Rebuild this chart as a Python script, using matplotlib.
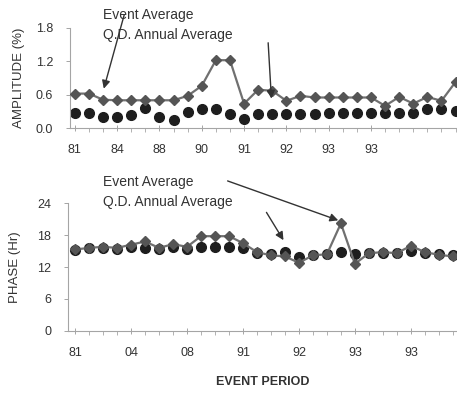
import numpy as np
import matplotlib
matplotlib.use('Agg')
import matplotlib.pyplot as plt

plt.rcParams['font.family'] = ['Liberation Sans Narrow', 'Liberation Sans', 'DejaVu Sans']

# event index (28 events)
n_events = 28

# Amplitude (%)
amp_event = [0.62, 0.62, 0.51, 0.50, 0.50, 0.50, 0.50, 0.50, 0.58, 0.76,
             1.22, 1.22, 0.44, 0.69, 0.67, 0.49, 0.58, 0.55, 0.55, 0.55,
             0.55, 0.55, 0.40, 0.56, 0.44, 0.56, 0.49, 0.83]
amp_qd = [0.28, 0.28, 0.20, 0.20, 0.23, 0.36, 0.20, 0.15, 0.29, 0.35,
          0.35, 0.26, 0.17, 0.26, 0.26, 0.26, 0.26, 0.26, 0.27, 0.27,
          0.27, 0.27, 0.27, 0.27, 0.27, 0.34, 0.34, 0.30]

# Phase (Hr)
ph_event = [15.3, 15.6, 15.8, 15.6, 16.2, 16.8, 15.6, 16.3, 15.8, 17.8,
            17.8, 17.8, 16.5, 14.8, 14.2, 14.0, 12.8, 14.2, 14.4, 20.2,
            12.6, 14.6, 14.8, 14.6, 16.0, 14.8, 14.3, 14.0]
ph_qd = [15.2, 15.5, 15.5, 15.3, 15.8, 15.6, 15.4, 15.8, 15.4, 15.8,
         15.8, 15.8, 15.5, 14.6, 14.4, 14.8, 13.8, 14.2, 14.4, 14.8,
         14.4, 14.6, 14.6, 14.6, 15.0, 14.6, 14.4, 14.3]

top_ticklabels = ['81', '84', '88', '90', '91', '92', '93', '93']
bot_ticklabels = ['81', '04', '08', '91', '92', '93', '93']

x = np.arange(n_events)

fig = plt.figure(figsize=(4.57, 3.93), dpi=100)
ax1 = fig.add_axes([0.153, 0.674, 0.847, 0.255])
ax2 = fig.add_axes([0.149, 0.158, 0.851, 0.325])

gray = '#707070'
dark = '#1e1e1e'


def style(ax):
    for s in ['top', 'right']:
        ax.spines[s].set_visible(False)
    for s in ['left', 'bottom']:
        ax.spines[s].set_color('#a5a5a5')
        ax.spines[s].set_linewidth(0.8)
    ax.tick_params(colors='#a5a5a5', labelcolor='#333333', labelsize=9,
                   length=3, width=0.7)
    ax.tick_params(axis='y', pad=9)
    ax.tick_params(axis='x', which='minor', length=3, width=0.6, colors='#a5a5a5')
    ax.tick_params(axis='x', direction='inout', length=5)
    ax.set_xticks(x, minor=True)


# top panel
ax1.plot(x, amp_qd, 'o', color=dark, ms=7, zorder=2)
ax1.plot(x, amp_event, '-D', color=gray, mfc='#555555', mec='#555555',
         ms=4.8, lw=1.6, zorder=3)
ax1.set_xlim(-0.35, 27.1)
ax1.set_ylim(0, 1.8)
ax1.set_yticks([0, 0.6, 1.2, 1.8])
ax1.set_yticklabels(['0.0', '0.6', '1.2', '1.8'])
ax1.set_xticks(np.arange(0, 22, 3))
ax1.set_xticklabels(top_ticklabels)
ax1.set_ylabel('AMPLITUDE (%)', fontsize=9.5, color='#333333', labelpad=8)
style(ax1)
ax1.tick_params(axis='x', pad=9)

fig.text(103 / 457, 1 - 15 / 393, 'Event Average', fontsize=10,
         color='#333333', va='center')
fig.text(103 / 457, 1 - 35 / 393, 'Q.D. Annual Average', fontsize=10,
         color='#333333', va='center')
ax1.annotate('', xy=(2, 0.66), xycoords='data',
             xytext=(125 / 457, 1 - 12 / 393), textcoords='figure fraction',
             arrowprops=dict(arrowstyle='-|>', color='#333333', lw=1.0,
                             mutation_scale=12),
             annotation_clip=False)
ax1.annotate('', xy=(13.95, 0.48), xycoords='data',
             xytext=(268 / 457, 1 - 40 / 393), textcoords='figure fraction',
             arrowprops=dict(arrowstyle='-|>', color='#333333', lw=1.0,
                             mutation_scale=12),
             annotation_clip=False)

# bottom panel
ax2.plot(x, ph_qd, 'o', color=dark, ms=7, zorder=2)
ax2.plot(x, ph_event, '-D', color=gray, mfc='#555555', mec='#555555',
         ms=4.8, lw=1.6, zorder=3)
ax2.set_xlim(-0.5, 27.3)
ax2.set_ylim(0, 24)
ax2.set_yticks([0, 6, 12, 18, 24])
ax2.set_xticks(np.arange(0, 25, 4))
ax2.set_xticklabels(bot_ticklabels)
ax2.set_ylabel('PHASE (Hr)', fontsize=9.5, color='#333333', labelpad=12)
ax2.set_xlabel('EVENT PERIOD', fontsize=9, color='#333333',
               fontweight='bold', labelpad=12)
style(ax2)
ax2.tick_params(axis='x', pad=9)

fig.text(103 / 457, 1 - 182 / 393, 'Event Average', fontsize=10,
         color='#333333', va='center')
fig.text(103 / 457, 1 - 202 / 393, 'Q.D. Annual Average', fontsize=10,
         color='#333333', va='center')
ax2.annotate('', xy=(19, 20.6), xycoords='data',
             xytext=(225 / 457, 1 - 180 / 393), textcoords='figure fraction',
             arrowprops=dict(arrowstyle='-|>', color='#333333', lw=1.0,
                             mutation_scale=12),
             annotation_clip=False)
ax2.annotate('', xy=(15, 16.6), xycoords='data',
             xytext=(265 / 457, 1 - 210 / 393), textcoords='figure fraction',
             arrowprops=dict(arrowstyle='-|>', color='#333333', lw=1.0,
                             mutation_scale=12),
             annotation_clip=False)

fig.savefig('out.png', dpi=100)
